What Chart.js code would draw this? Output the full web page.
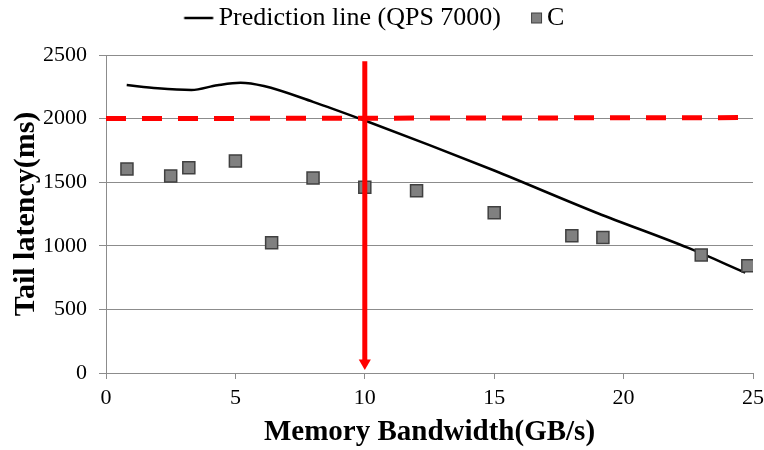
<!DOCTYPE html>
<html>
<head>
<meta charset="utf-8">
<script src="https://cdn.jsdelivr.net/npm/chart.js@4.4.1/dist/chart.umd.min.js"></script>
<style>
  html, body { margin: 0; padding: 0; background: #ffffff; }
  #wrap { width: 764px; height: 450px; }
</style>
</head>
<body>
<div id="wrap"><canvas id="c" width="764" height="450"></canvas></div>
<script>
// ---- Data ----
const lineLabel = 'Prediction line (QPS 7000)';
const lineX = [0.8, 2.0, 3.3, 4.3, 5.2, 6.1, 8.0, 10.0, 12.5, 15.0, 19.0, 22.5, 24.7];
const lineY = [2264, 2238, 2225, 2262, 2282, 2256, 2132, 1985, 1792, 1592, 1256, 983, 789];

const scatterLabel = 'C';
const scatterX = [0.81, 2.5, 3.2, 5.0, 6.4, 8.0, 10.0, 12.0, 15.0, 18.0, 19.2, 23.0, 24.8];
const scatterY = [1604, 1549, 1614, 1667, 1024, 1533, 1460, 1433, 1260, 1079, 1066, 928, 844];

const thresholdX = [0, 25];
const thresholdY = [2000, 2008];

const markerX = [10, 10];
const markerY = [2450, 100];
const arrowTip = [{ x: 10, y: 79 }];

const xTicks = [0, 5, 10, 15, 20, 25];
const yTicks = [0, 500, 1000, 1500, 2000, 2500];

const xTitle = 'Memory Bandwidth(GB/s)';
const yTitle = 'Tail latency(ms)';

const toPts = (xs, ys) => xs.map((x, i) => ({ x: x, y: ys[i] }));

// ---- Legend glyphs ----
function makeLineGlyph() {
  const cv = document.createElement('canvas');
  cv.width = 60; cv.height = 6;
  const g = cv.getContext('2d');
  g.strokeStyle = '#000000';
  g.lineWidth = 2.5;
  g.beginPath(); g.moveTo(22.5, 3); g.lineTo(51.5, 3); g.stroke();
  return cv;
}
function makeSquareGlyph() {
  const cv = document.createElement('canvas');
  cv.width = 60; cv.height = 12;
  const g = cv.getContext('2d');
  g.fillStyle = '#808080';
  g.fillRect(41.5, 1, 10, 10);
  g.strokeStyle = '#404040';
  g.lineWidth = 1;
  g.strokeRect(41.5, 1, 10, 10);
  return cv;
}
const lineGlyph = makeLineGlyph();
const squareGlyph = makeSquareGlyph();

const serif = '"Liberation Serif", "Times New Roman", serif';

const legendGap = {
  id: 'legendGap',
  beforeInit(chart) {
    const origFit = chart.legend.fit;
    chart.legend.fit = function () {
      origFit.bind(chart.legend)();
      this.height += 14;
      if (this.lineWidths && this.lineWidths.length) this.lineWidths[0] += 22;
    };
  }
};

new Chart(document.getElementById('c'), {
  type: 'scatter',
  plugins: [legendGap],
  data: {
    datasets: [
      {
        type: 'line',
        label: lineLabel,
        data: toPts(lineX, lineY),
        borderColor: '#000000',
        backgroundColor: '#000000',
        borderWidth: 2.5,
        pointRadius: 0,
        cubicInterpolationMode: 'monotone',
        fill: false,
        order: 3
      },
      {
        label: scatterLabel,
        data: toPts(scatterX, scatterY),
        pointStyle: 'rect',
        pointRadius: 8.5,
        pointHoverRadius: 8.5,
        backgroundColor: '#808080',
        borderColor: '#404040',
        borderWidth: 1.5,
        order: 2
      },
      {
        type: 'line',
        label: 'threshold',
        data: toPts(thresholdX, thresholdY),
        borderColor: '#ff0000',
        borderWidth: 5,
        borderDash: [20, 16],
        pointRadius: 0,
        fill: false,
        order: 1
      },
      {
        type: 'line',
        label: 'marker',
        data: toPts(markerX, markerY),
        borderColor: '#ff0000',
        borderWidth: 5,
        pointRadius: 0,
        fill: false,
        order: 0
      },
      {
        label: 'arrow',
        data: arrowTip,
        pointStyle: 'triangle',
        rotation: 180,
        pointRadius: 7,
        pointHoverRadius: 7,
        backgroundColor: '#ff0000',
        borderColor: '#ff0000',
        borderWidth: 0,
        order: 0
      }
    ]
  },
  options: {
    responsive: false,
    animation: false,
    events: [],
    layout: { padding: { top: 0, left: 0, right: 0, bottom: 0 } },
    plugins: {
      tooltip: { enabled: false },
      legend: {
        position: 'top',
        labels: {
          usePointStyle: true,
          pointStyleWidth: 28,
          padding: 5,
          color: '#000000',
          font: { family: serif, size: 26 },
          filter: (item) => item.datasetIndex <= 1,
          sort: (a, b) => a.datasetIndex - b.datasetIndex,
          generateLabels: (chart) => {
            const items = Chart.defaults.plugins.legend.labels.generateLabels(chart);
            items.forEach(it => {
              if (it.datasetIndex === 0) it.pointStyle = lineGlyph;
              else if (it.datasetIndex === 1) it.pointStyle = squareGlyph;
            });
            return items;
          }
        }
      }
    },
    scales: {
      x: {
        type: 'linear',
        min: 0,
        max: 25,
        afterBuildTicks: (s) => { s.ticks = xTicks.map(v => ({ value: v })); },
        afterFit: (s) => { s.height = 77; s.paddingRight = 11; s.paddingLeft = 0; },
        ticks: {
          color: '#000000',
          font: { family: serif, size: 22 },
          padding: 6,
          maxRotation: 0,
          callback: (v) => String(v)
        },
        grid: {
          display: true,
          drawOnChartArea: false,
          drawTicks: true,
          tickLength: 6,
          color: '#8c8c8c'
        },
        border: { display: true, color: '#8c8c8c', width: 1 },
        title: {
          display: true,
          text: xTitle,
          color: '#000000',
          font: { family: serif, size: 29, weight: 'bold' },
          padding: { top: 0, bottom: 0 }
        }
      },
      y: {
        type: 'linear',
        min: 0,
        max: 2500,
        afterBuildTicks: (s) => { s.ticks = yTicks.map(v => ({ value: v })); },
        afterFit: (s) => { s.width = 106; },
        ticks: {
          color: '#000000',
          font: { family: serif, size: 22 },
          padding: 12,
          callback: (v) => String(v)
        },
        grid: {
          display: true,
          drawOnChartArea: true,
          drawTicks: true,
          tickLength: 7,
          color: '#8c8c8c'
        },
        border: { display: true, color: '#8c8c8c', width: 1 },
        title: {
          display: true,
          text: yTitle,
          color: '#000000',
          font: { family: serif, size: 30, weight: 'bold' },
          padding: { top: 8, bottom: 0 }
        }
      }
    }
  }
});
</script>
</body>
</html>
